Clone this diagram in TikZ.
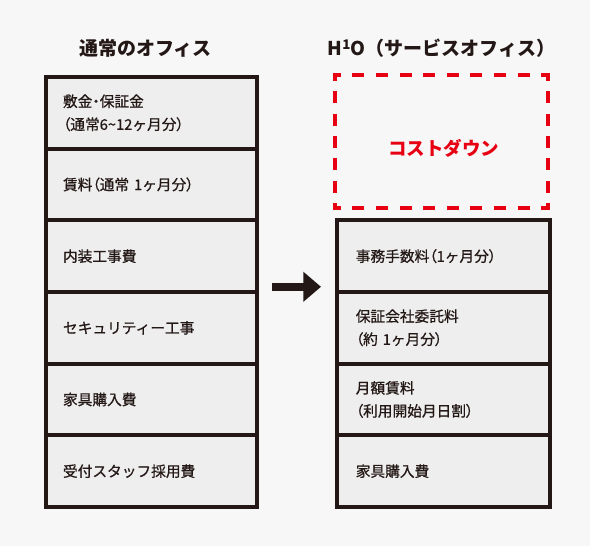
\documentclass[tikz,border=0pt]{standalone}
\usepackage{fontspec}
\usetikzlibrary{arrows.meta}
\newfontfamily\jp{Noto Sans CJK JP}
\newfontfamily\jpm[FakeBold=0.8]{Noto Sans CJK JP}
\newfontfamily\jpp[RawFeature=+palt,FakeBold=0.8]{Noto Sans CJK JP}
\newcommand\lpar{{\jpp （}}
\newcommand\rpar{{\jpp ）}}
\newcommand\nakaguro{{\jpp ・}}
\definecolor{ink}{HTML}{231815}
\definecolor{boxfill}{HTML}{EEEEEE}
\definecolor{bg}{HTML}{F7F7F7}
\definecolor{cutred}{HTML}{E60012}
\begin{document}
\begin{tikzpicture}[x=1pt,y=-1pt,
  cell/.style={draw=ink, line width=4pt, fill=boxfill, minimum height=71.67pt, inner ysep=0pt, align=left, anchor=north west, font=\jpm\fontsize{14.7}{23}\selectfont, text=ink},
  lcell/.style={cell, inner xsep=17pt, text width=177pt},
  rcell/.style={cell, inner xsep=18.5pt, text width=175.7pt},
  title/.style={font=\jp\bfseries\fontsize{19}{19}\selectfont, text=ink, inner sep=0pt},
  cutside/.style={draw=cutred, line width=4pt, line cap=rect},
  hside/.style={cutside, dash pattern=on 8pt off 15.6pt, dash phase=4.6pt},
  vside/.style={cutside, dash pattern=on 8pt off 14.4pt, dash phase=4.6pt},
]
\fill[bg] (0,0) rectangle (590,546);
\useasboundingbox (0,0) rectangle (590,546);

\node[title] (ltitle) at (145.5,48) {通常のオフィス};
\node[title] (rtitle) at (441.5,48) {H\textsuperscript{1}O（サービスオフィス）};

\node[lcell] (l1) at (44,75) {敷金\nakaguro 保証金\\\lpar 通常6\textasciitilde 12ヶ月分\rpar};
\node[lcell] (l2) at (44,146.67) {賃料\lpar 通常 1ヶ月分\rpar};
\node[lcell] (l3) at (44,218.33) {内装工事費};
\node[lcell] (l4) at (44,290) {セキュリティー工事};
\node[lcell] (l5) at (44,361.67) {家具購入費};
\node[lcell] (l6) at (44,433.33) {受付スタッフ採用費};

\node[rcell] (r1) at (335.3,218.33) {事務手数料\lpar 1ヶ月分\rpar};
\node[rcell] (r2) at (335.3,290) {保証会社委託料\\\lpar 約 1ヶ月分\rpar};
\node[rcell] (r3) at (335.3,361.67) {月額賃料\\\lpar 利用開始月日割\rpar};
\node[rcell] (r4) at (335.3,433.33) {家具購入費};

\node[minimum width=212.7pt, minimum height=132.7pt, anchor=north west, outer sep=0pt, inner sep=0pt] (cut) at (335.3,75.3) {};
\node[font=\jp\bfseries\fontsize{18.5}{18.5}\selectfont, text=cutred] (cutlabel) at ([shift={(2,7)}]cut.center) {コストダウン};
\draw[hside] (cut.north west) -- (cut.north east);
\draw[hside] (cut.south west) -- (cut.south east);
\draw[vside] (cut.north west) -- (cut.south west);
\draw[vside] (cut.north east) -- (cut.south east);

\coordinate (astart) at (271.7,286.8);
\coordinate (aend) at (321,286.8);
\draw[ink, line width=8pt, -{Triangle[length=17.7pt, width=29pt]}] (astart) -- (aend);
\end{tikzpicture}
\end{document}
